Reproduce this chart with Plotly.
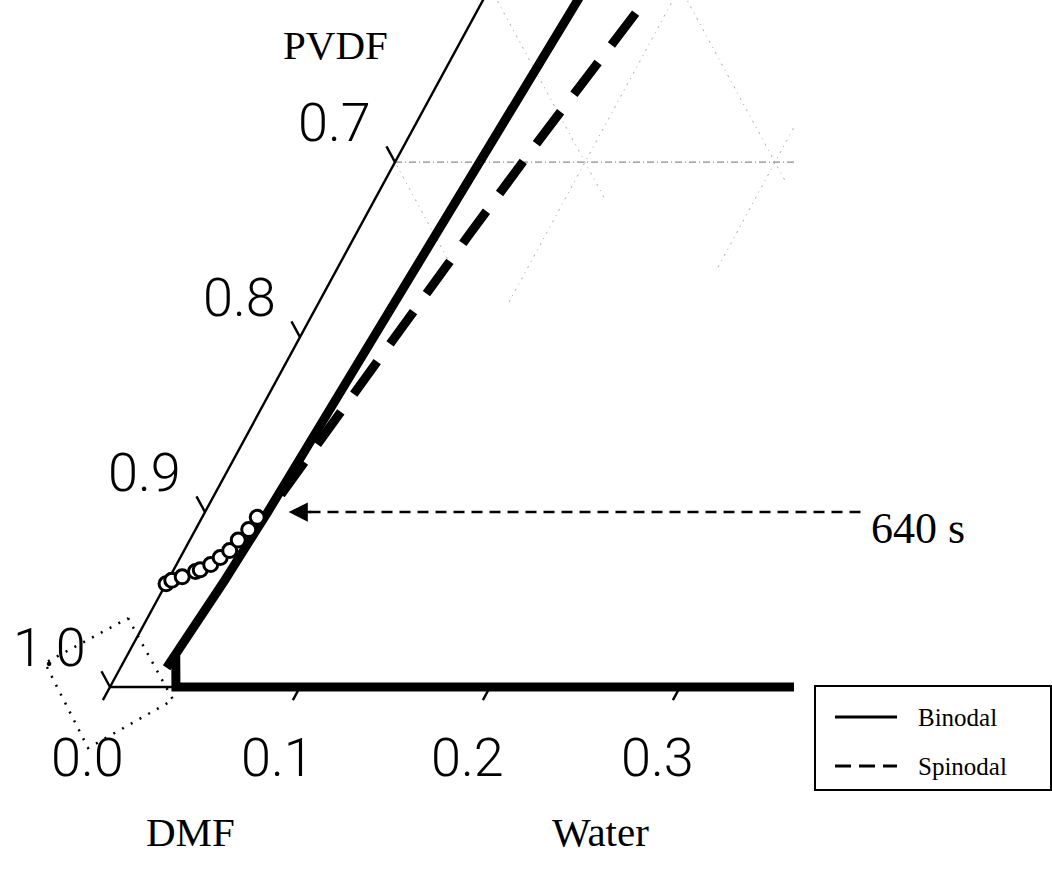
import numpy as np
import plotly.graph_objects as go

# ---------------- data (ternary compositions: w = water fraction, p = polymer fraction) -------------
binodal_p = [0.011, 0.022, 0.06, 0.10, 0.14, 0.18, 0.22, 0.26, 0.30, 0.34, 0.40]
binodal_w = [0.0243, 0.0257, 0.0298, 0.0330, 0.0354, 0.0373, 0.0392, 0.0413, 0.0438, 0.0464, 0.0503]

spinodal_p = [0.11, 0.16, 0.21, 0.26, 0.31, 0.40]
spinodal_w = [0.035, 0.043, 0.052, 0.060, 0.069, 0.087]

# polymer-free base of the binodal (thick line on the bottom axis)
base_w = [0.36, 0.0347, 0.0256]
base_p = [0.0, 0.0, 0.018]

# composition path up to 640 s (open circles)
path_w = [0.000, 0.002, 0.0065, 0.012, 0.014, 0.018, 0.021, 0.024, 0.0255, 0.028, 0.029]
path_p = [0.059, 0.061, 0.063, 0.066, 0.067, 0.070, 0.074, 0.078, 0.084, 0.090, 0.097]

# arrow pointing at the 640 s composition
arrow_tip = (0.044, 0.10)
arrow_tail_w = 0.345
arrow_label = "640 s"

# axis ticks
left_tick_p = [0.0, 0.1, 0.2, 0.3]
left_tick_labels = ["1.0", "0.9", "0.8", "0.7"]
bottom_tick_w = [0.0, 0.1, 0.2, 0.3]
bottom_tick_labels = ["0.0", "0.1", "0.2", "0.3"]

# faint grid lines shown in the zoomed corner
grid_p_const = [(0.3, 0.0, 0.21)]                      # (p, w_from, w_to)
grid_w_const = [(0.1, 0.22, 0.42), (0.2, 0.24, 0.32)]  # (w, p_from, p_to)
grid_dmf_const = [(0.7, 0.245, 0.30), (0.6, 0.28, 0.42), (0.5, 0.29, 0.42)]  # (dmf, p_from, p_to)

# dotted zoom marker around the DMF corner
zoom_box_w = [-0.0102, 0.0369, 0.0059, -0.0411, -0.0102]
zoom_box_p = [0.0394, -0.0074, -0.0349, 0.0137, 0.0394]

# legend entries
legend_names = ["Binodal", "Spinodal"]

# ---------------- helpers -------------------------------------------------------------
SQ = np.sqrt(3) / 2


def tern(w, p):
    w = np.asarray(w, float)
    p = np.asarray(p, float)
    return w + p / 2, p * SQ


def segs(list_of_pairs):
    xs, ys = [], []
    for (w0, p0), (w1, p1) in list_of_pairs:
        x, y = tern([w0, w1], [p0, p1])
        xs += list(x) + [None]
        ys += list(y) + [None]
    return xs, ys


fig = go.Figure()

# faint grid
grid_pairs = []
for p, w0, w1 in grid_p_const:
    grid_pairs.append(((w0, p), (w1, p)))
gx, gy = segs(grid_pairs)
fig.add_trace(go.Scatter(x=gx, y=gy, mode="lines", showlegend=False, hoverinfo="skip",
                         line=dict(color="#8c8c8c", width=1.2, dash="7px,3px,1px,3px")))
grid_pairs = []
for w, p0, p1 in grid_w_const:
    grid_pairs.append(((w, p0), (w, p1)))
for d, p0, p1 in grid_dmf_const:
    grid_pairs.append(((1 - d - p0, p0), (1 - d - p1, p1)))
gx, gy = segs(grid_pairs)
fig.add_trace(go.Scatter(x=gx, y=gy, mode="lines", showlegend=False, hoverinfo="skip",
                         line=dict(color="#a8a8a8", width=1, dash="2px,5px,1px,5px")))

# dotted zoom box
zx, zy = tern(zoom_box_w, zoom_box_p)
fig.add_trace(go.Scatter(x=zx, y=zy, mode="lines", showlegend=False, hoverinfo="skip",
                         line=dict(color="black", width=2.5, dash="2px,8px")))

# axes frame: left edge and bottom edge
ex, ey = segs([((0, 0), (0, 0.42)), ((0, 0), (0.36, 0))])
fig.add_trace(go.Scatter(x=ex, y=ey, mode="lines", showlegend=False, hoverinfo="skip",
                         line=dict(color="black", width=2.4)))

# ticks
TL, TB = 0.009, 0.0075
tick_pairs = [((0, p), (-TL, p + TL)) for p in left_tick_p]
tick_pairs += [((w, 0), (w, -TB)) for w in bottom_tick_w]
tx, ty = segs(tick_pairs)
fig.add_trace(go.Scatter(x=tx, y=ty, mode="lines", showlegend=False, hoverinfo="skip",
                         line=dict(color="black", width=2.4)))

# base of binodal
bx, by = tern(base_w, base_p)
fig.add_trace(go.Scatter(x=bx, y=by, mode="lines", showlegend=False, hoverinfo="skip",
                         line=dict(color="black", width=9)))

# binodal and spinodal
x, y = tern(binodal_w, binodal_p)
fig.add_trace(go.Scatter(x=x, y=y, mode="lines", showlegend=False, name="Binodal",
                         line=dict(color="black", width=9)))
x, y = tern(spinodal_w, spinodal_p)
fig.add_trace(go.Scatter(x=x, y=y, mode="lines", showlegend=False, name="Spinodal",
                         line=dict(color="black", width=9, dash="40px,22px")))

# composition path markers
x, y = tern(path_w, path_p)
fig.add_trace(go.Scatter(x=x, y=y, mode="markers", showlegend=False, name="640 s path",
                         marker=dict(symbol="circle", size=14, color="white",
                                     line=dict(color="black", width=3))))

# dashed arrow
ax0, ay0 = tern([arrow_tail_w, arrow_tip[0] + 0.008], [arrow_tip[1], arrow_tip[1]])
fig.add_trace(go.Scatter(x=ax0, y=ay0, mode="lines", showlegend=False, hoverinfo="skip",
                         line=dict(color="black", width=2.4, dash="11px,7px")))
tipx, tipy = tern([arrow_tip[0]], [arrow_tip[1]])
tailx, taily = tern([arrow_tail_w], [arrow_tip[1]])
fig.add_annotation(x=float(tipx[0]), y=float(tipy[0]), ax=24, ay=0, axref="pixel", ayref="pixel",
                   text="", showarrow=True, arrowhead=2, arrowsize=1.6, arrowwidth=2.4,
                   arrowcolor="black")
fig.add_annotation(x=float(tailx[0]), y=float(taily[0]), text=arrow_label, showarrow=False,
                   xanchor="left", yanchor="middle", xshift=8, yshift=-16,
                   font=dict(family="Liberation Serif", size=44, color="black"))

# tick labels
num_font = dict(family="Roboto", size=54, color="black", weight=300)
for p, lab in zip(left_tick_p, left_tick_labels):
    x, y = tern([0], [p])
    fig.add_annotation(x=float(x[0]), y=float(y[0]), text=lab, showarrow=False,
                       xanchor="center", yanchor="middle", xshift=-61, yshift=40, font=num_font)
for w, lab in zip(bottom_tick_w, bottom_tick_labels):
    x, y = tern([w], [0])
    fig.add_annotation(x=float(x[0]), y=float(y[0]), text=lab, showarrow=False,
                       xanchor="center", yanchor="middle", xshift=-23, yshift=-70, font=num_font)

# component names
name_font = dict(family="Liberation Serif", size=41, color="black")
fig.add_annotation(x=335 / 1052, y=1 - 45 / 874, xref="paper", yref="paper", text="PVDF",
                   showarrow=False, xanchor="center", yanchor="middle", font=name_font)
fig.add_annotation(x=190 / 1052, y=1 - 832 / 874, xref="paper", yref="paper", text="DMF",
                   showarrow=False, xanchor="center", yanchor="middle", font=name_font)
fig.add_annotation(x=600 / 1052, y=1 - 832 / 874, xref="paper", yref="paper", text="Water",
                   showarrow=False, xanchor="center", yanchor="middle", font=name_font)

# ---------------- legend box (drawn in paper coordinates) -------------------------------
W, H = 1052, 874
shapes = [
    dict(type="rect", xref="paper", yref="paper", x0=815 / W, x1=1051 / W,
         y0=1 - 790 / H, y1=1 - 686 / H, line=dict(color="black", width=2),
         fillcolor="white", layer="above"),
]
legend_dash = ["solid", "16px,8px"]
legend_rows = [717, 766]
for name, dash, row in zip(legend_names, legend_dash, legend_rows):
    shapes.append(dict(type="line", xref="paper", yref="paper", x0=835 / W, x1=897 / W,
                       y0=1 - row / H, y1=1 - row / H, layer="above",
                       line=dict(color="black", width=3, dash=dash)))
    fig.add_annotation(x=916 / W, y=1 - row / H, xref="paper", yref="paper", text=name,
                       showarrow=False, xanchor="left", yanchor="middle",
                       font=dict(family="Liberation Serif", size=25, color="black"))

fig.update_layout(
    width=W, height=H,
    margin=dict(l=0, r=0, t=0, b=0),
    paper_bgcolor="white", plot_bgcolor="white",
    showlegend=False,
    shapes=shapes,
    xaxis=dict(range=[-110 / 1900, 942 / 1900], visible=False, fixedrange=True),
    yaxis=dict(range=[-(874 - 687) / 2020, 687 / 2020], visible=False, fixedrange=True),
)

fig.write_html("out.html")
